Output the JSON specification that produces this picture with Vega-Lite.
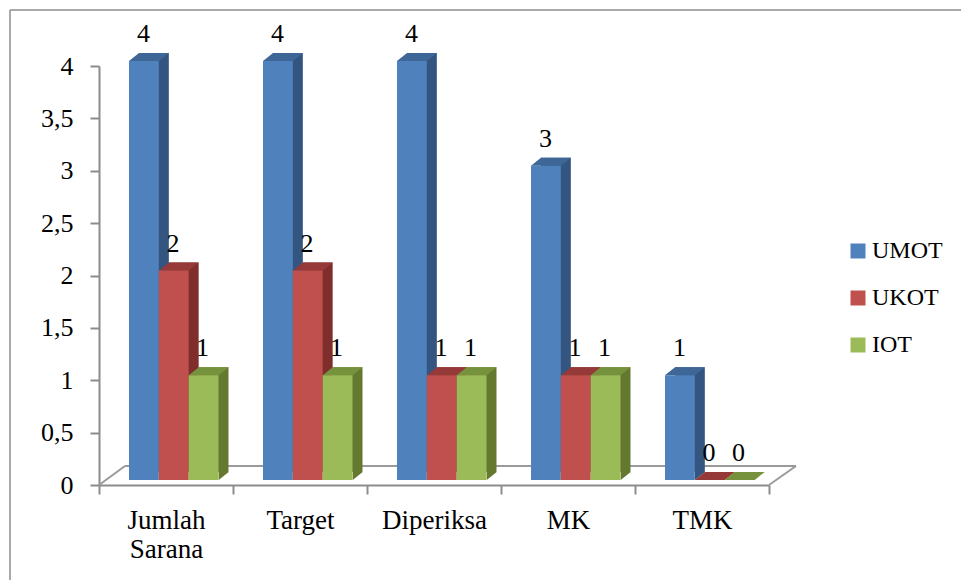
{
  "$schema": "https://vega.github.io/schema/vega-lite/v6.json",
  "width": 670,
  "height": 419,
  "autosize": "none",
  "padding": {"left": 99, "top": 66, "right": 192, "bottom": 95},
  "background": "white",
  "view": {"stroke": null},
  "config": {"font": "Liberation Serif"},
  "data": {"values": [
    {"kategori": "Jumlah Sarana", "seri": "UMOT", "nilai": 4},
    {"kategori": "Jumlah Sarana", "seri": "UKOT", "nilai": 2},
    {"kategori": "Jumlah Sarana", "seri": "IOT", "nilai": 1},
    {"kategori": "Target", "seri": "UMOT", "nilai": 4},
    {"kategori": "Target", "seri": "UKOT", "nilai": 2},
    {"kategori": "Target", "seri": "IOT", "nilai": 1},
    {"kategori": "Diperiksa", "seri": "UMOT", "nilai": 4},
    {"kategori": "Diperiksa", "seri": "UKOT", "nilai": 1},
    {"kategori": "Diperiksa", "seri": "IOT", "nilai": 1},
    {"kategori": "MK", "seri": "UMOT", "nilai": 3},
    {"kategori": "MK", "seri": "UKOT", "nilai": 1},
    {"kategori": "MK", "seri": "IOT", "nilai": 1},
    {"kategori": "TMK", "seri": "UMOT", "nilai": 1},
    {"kategori": "TMK", "seri": "UKOT", "nilai": 0},
    {"kategori": "TMK", "seri": "IOT", "nilai": 0}
  ]},
  "resolve": {"scale": {"color": "independent", "xOffset": "independent"}},
  "layer": [
    {
      "data": {"values": [{}]},
      "mark": {"type": "rule", "color": "#8c8c8c", "strokeWidth": 1.5},
      "encoding": {
        "x": {"value": -89},
        "y": {"value": -56},
        "y2": {"value": 514}
      }
    },
    {
      "data": {"values": [{}]},
      "mark": {"type": "rule", "color": "#8c8c8c", "strokeWidth": 1.5},
      "encoding": {
        "x": {"value": -89},
        "x2": {"value": 862},
        "y": {"value": -56}
      }
    },
    {
      "data": {"values": [{}]},
      "mark": {"type": "rule", "color": "#9a9a9a", "strokeWidth": 2},
      "encoding": {
        "x": {"value": 26},
        "x2": {"value": 697},
        "y": {"value": 400}
      }
    },
    {
      "data": {"values": [{}]},
      "mark": {"type": "rule", "color": "#9a9a9a", "strokeWidth": 2},
      "encoding": {
        "x": {"value": 0},
        "x2": {"value": 26},
        "y": {"value": 419},
        "y2": {"value": 400}
      }
    },
    {
      "data": {"values": [{}]},
      "mark": {"type": "rule", "color": "#9a9a9a", "strokeWidth": 2},
      "encoding": {
        "x": {"value": 670},
        "x2": {"value": 697},
        "y": {"value": 419},
        "y2": {"value": 400}
      }
    },
    {
      "description": "Side walls of the bars, pushed back along the depth direction",
      "mark": {"type": "bar", "yOffset": -13, "y2Offset": -13},
      "encoding": {
        "x": {"field": "kategori", "type": "nominal", "sort": null,
          "scale": {"paddingInner": 0, "paddingOuter": 0},
          "axis": {
            "title": null, "labelAngle": 0, "bandPosition": 0, "tickBand": "extent",
            "domainColor": "#8c8c8c", "domainWidth": 2, "tickColor": "#8c8c8c", "tickWidth": 2, "tickSize": 9,
            "labelFontSize": 27, "labelColor": "#000", "labelPadding": 13, "labelLineHeight": 29,
            "labelFont": "Liberation Serif", "labelBaseline": "top",
            "labelExpr": "datum.label == 'Jumlah Sarana' ? ['Jumlah', 'Sarana'] : datum.label"
          }
        },
        "xOffset": {"field": "seri", "type": "nominal", "scale": {"domain": ["UMOT", "UKOT", "IOT"], "range": [40, 129.5], "paddingOuter": 0, "paddingInner": 0}},
        "y": {"field": "nilai", "type": "quantitative", "stack": null,
          "scale": {"domain": [0, 4], "nice": false},
          "axis": {
            "title": null, "values": [0, 0.5, 1, 1.5, 2, 2.5, 3, 3.5, 4], "grid": false,
            "domainColor": "#8c8c8c", "domainWidth": 2, "tickColor": "#8c8c8c", "tickWidth": 2, "tickSize": 9,
            "labelFontSize": 26, "labelColor": "#000", "labelPadding": 17, "labelFont": "Liberation Serif",
            "labelExpr": "replace(format(datum.value, '~g'), '.', ',')"
          }
        },
        "y2": {"datum": 0},
        "color": {"field": "seri", "type": "nominal", "legend": null,
          "scale": {"domain": ["UMOT", "UKOT", "IOT"], "range": ["#335580", "#7f2e2c", "#64782f"]}}
      }
    },
    {
      "description": "Lower corner of each side wall",
      "transform": [{"filter": "datum.nilai > 0"}],
      "mark": {"type": "point", "filled": true, "opacity": 1, "size": 4, "strokeWidth": 0, "yOffset": -5, "shape": "M15,0L15,-8L25,-8Z"},
      "encoding": {
        "x": {"field": "kategori", "type": "nominal", "sort": null},
        "xOffset": {"field": "seri", "type": "nominal", "scale": {"domain": ["UMOT", "UKOT", "IOT"], "range": [45, 104.7], "padding": 0}},
        "y": {"datum": 0},
        "color": {"field": "seri", "type": "nominal", "legend": null,
          "scale": {"domain": ["UMOT", "UKOT", "IOT"], "range": ["#335580", "#7f2e2c", "#64782f"]}}
      }
    },
    {
      "description": "Top faces of the bars",
      "mark": {"type": "point", "filled": true, "opacity": 1, "size": 4, "strokeWidth": 0, "yOffset": -5, "shape": "M-15,0L-5,-8L25,-8L15,0Z"},
      "encoding": {
        "x": {"field": "kategori", "type": "nominal", "sort": null},
        "xOffset": {"field": "seri", "type": "nominal", "scale": {"domain": ["UMOT", "UKOT", "IOT"], "range": [45, 104.7], "padding": 0}},
        "y": {"field": "nilai", "type": "quantitative", "stack": null},
        "color": {"field": "seri", "type": "nominal", "legend": null,
          "scale": {"domain": ["UMOT", "UKOT", "IOT"], "range": ["#3e6696", "#953a38", "#76923c"]}}
      }
    },
    {
      "description": "Front faces of the bars, carrying the legend",
      "mark": {"type": "bar", "yOffset": -5, "y2Offset": -5},
      "encoding": {
        "x": {"field": "kategori", "type": "nominal", "sort": null},
        "xOffset": {"field": "seri", "type": "nominal", "scale": {"domain": ["UMOT", "UKOT", "IOT"], "range": [30, 119.5], "paddingOuter": 0, "paddingInner": 0}},
        "y": {"field": "nilai", "type": "quantitative", "stack": null},
        "y2": {"datum": 0},
        "color": {"field": "seri", "type": "nominal",
          "scale": {"domain": ["UMOT", "UKOT", "IOT"], "range": ["#4f81bd", "#c0504d", "#9bbb59"]},
          "legend": {
            "title": null, "orient": "none", "legendX": 747, "legendY": 173,
            "symbolType": "square", "symbolSize": 225, "symbolStrokeWidth": 0, "symbolOpacity": 1,
            "rowPadding": 23, "labelFontSize": 24, "labelColor": "#000", "labelOffset": 2,
            "labelFont": "Liberation Serif", "padding": 0
          }
        }
      }
    },
    {
      "description": "Value labels above each bar",
      "mark": {"type": "text", "fontSize": 26, "color": "#000", "yOffset": -24, "baseline": "alphabetic", "font": "Liberation Serif"},
      "encoding": {
        "x": {"field": "kategori", "type": "nominal", "sort": null},
        "xOffset": {"field": "seri", "type": "nominal", "scale": {"domain": ["UMOT", "UKOT", "IOT"], "range": [44.5, 103.5], "padding": 0}},
        "y": {"field": "nilai", "type": "quantitative", "stack": null},
        "text": {"field": "nilai", "type": "quantitative"}
      }
    }
  ]
}
